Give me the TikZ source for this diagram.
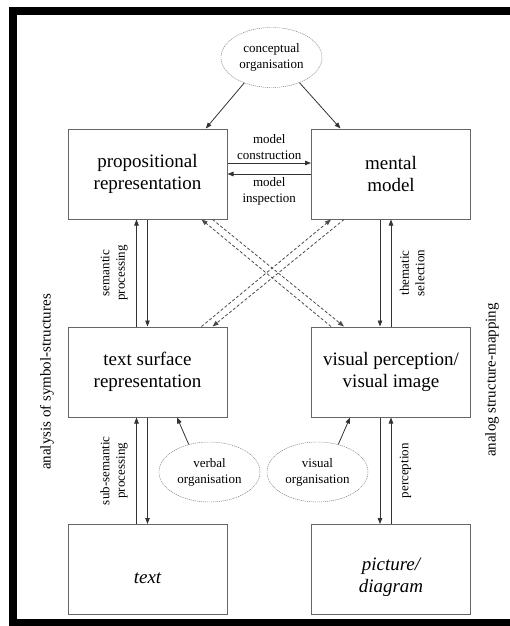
\documentclass[tikz,border=0pt]{standalone}
\usepackage{fontspec}
\setmainfont{Liberation Serif}
\usetikzlibrary{shapes.geometric,arrows.meta}

\begin{document}
\begin{tikzpicture}[x=1pt, y=-1pt, >={Triangle[length=6pt,width=4.5pt]},
  box/.style={draw=black!60, line width=1pt, minimum width=159pt, minimum height=90pt, align=center, font=\fontsize{19}{22}\selectfont},
  ibox/.style={box, font=\fontsize{19}{22}\selectfont\itshape, text depth=0pt},
  org/.style={ellipse, draw=black!55, dash pattern=on 1.2pt off 0.8pt, minimum width=101pt, minimum height=60pt, inner sep=0pt, align=center, font=\fontsize{13}{16}\selectfont},
  lbl/.style={align=center, font=\fontsize{13}{15.5}\selectfont},
  side/.style={rotate=90, font=\fontsize{15}{18}\selectfont},
  link/.style={->, draw=black!80, line width=0.8pt},
  dlink/.style={->, draw=black!70, line width=0.8pt, dash pattern=on 3pt off 2pt}]
\useasboundingbox (0,0) rectangle (510,626);
% frame
\fill (9,7) rectangle (510,15);
\fill (9,7) rectangle (17,626);
\fill (9,619) rectangle (510,626);

\node[box] (prop) at (147.5,174) {propositional\\representation};
\node[box] (mental) at (391,174) {mental\\model};
\node[box] (surface) at (147.5,372) {text surface\\representation};
\node[box] (visual) at (391,372) {visual perception/\\visual image};
\node[ibox, text height=28pt] (txt) at (147.5,569.5) {text};
\node[ibox, text height=46pt] (diagram) at (391,569.5) {picture/\\diagram};

\foreach \n/\x/\y/\t in {concept/271.5/57.5/conceptual, verbal/209.5/472/verbal, visorg/317.5/472/visual}
  \node[org] (\n) at (\x,\y) {\t\\organisation};

\node[side] (symb) at (47,382) {analysis of symbol-structures};
\node[side] (analog) at (492,380) {analog structure-mapping};

\draw[link] (concept.223) -- (prop.38);
\draw[link] (concept.318) -- (mental.138);
\draw[link] ([yshift=11pt]prop.east) -- ([yshift=11pt]mental.west) node[midway, above, lbl] {model\\construction};
\draw[link] (mental.west) -- (prop.east) node[midway, below, lbl] {model\\inspection};

% vertical pairs
\draw[link] ([xshift=-11pt]surface.north) -- ([xshift=-11pt]prop.south) node[midway, above=5pt, sloped, lbl] {semantic\\processing};
\draw[link] (prop.south) -- (surface.north);
\draw[link] ([xshift=-11pt]mental.south) -- ([xshift=-11pt]visual.north);
\draw[link] (visual.north) -- (mental.south) node[midway, below=5pt, sloped, lbl] {thematic\\selection};
\draw[link] ([xshift=-11pt]txt.north) -- ([xshift=-11pt]surface.south) node[midway, above=5pt, sloped, lbl] {sub-semantic\\processing};
\draw[link] (surface.south) -- (txt.north);
\draw[link] ([xshift=-11pt]visual.south) -- ([xshift=-11pt]diagram.north);
\draw[link] (diagram.north) -- (visual.south) node[midway, below=5pt, sloped, lbl] {perception};

% crossing dashed pairs
\draw[dlink] ([xshift=20pt]visual.north west) -- ([xshift=-26pt]prop.south east);
\draw[dlink] ([xshift=-15pt]prop.south east) -- ([xshift=33pt]visual.north west);
\draw[dlink] ([xshift=-26pt]surface.north east) -- ([xshift=20pt]mental.south west);
\draw[dlink] ([xshift=33pt]mental.south west) -- ([xshift=-15pt]surface.north east);

\draw[link] (verbal.127) -- (surface.303);
\draw[link] (visorg.53) -- (visual.228);
\end{tikzpicture}
\end{document}
